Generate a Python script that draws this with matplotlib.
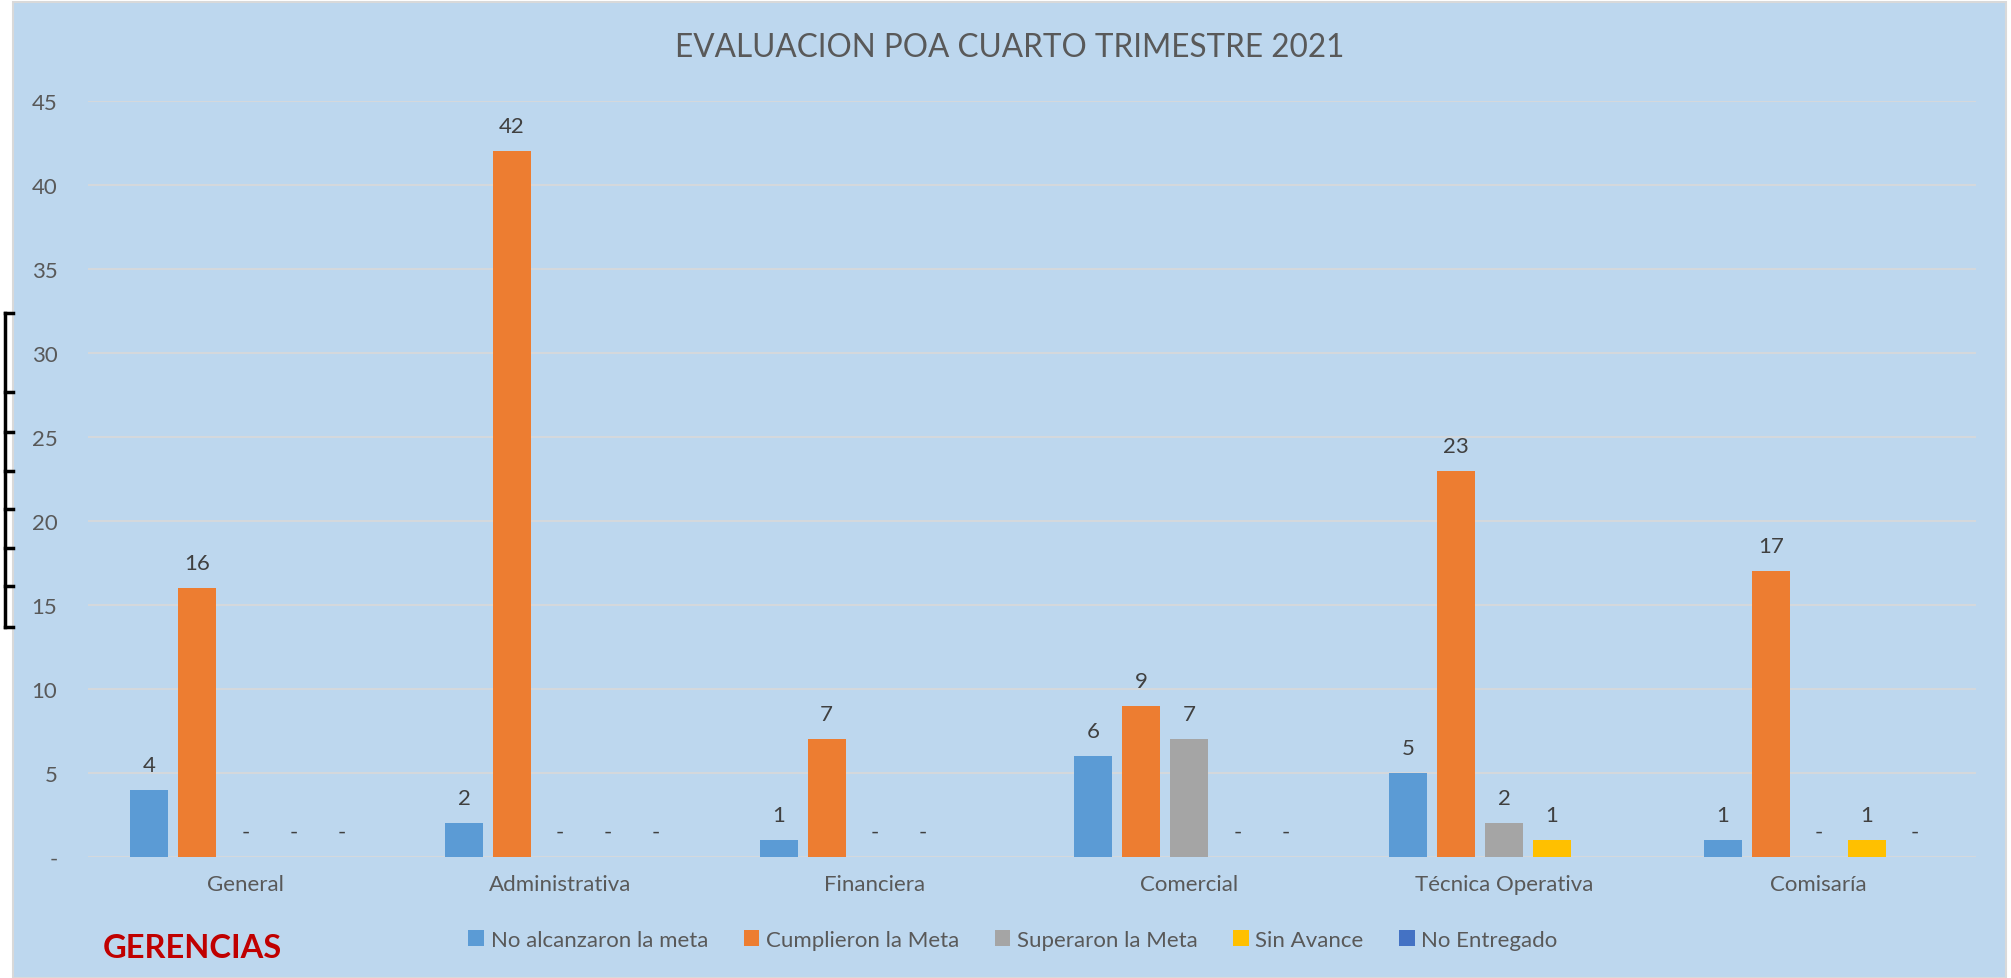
import numpy as np
import matplotlib
matplotlib.use("Agg")
import matplotlib.pyplot as plt
from matplotlib.patches import Rectangle
from matplotlib.lines import Line2D

plt.rcParams['font.family'] = ['Lato', 'DejaVu Sans']

categories = ["General", "Administrativa", "Financiera", "Comercial", "Técnica Operativa", "Comisaría"]
series_names = ["No alcanzaron la meta", "Cumplieron la Meta", "Superaron la Meta", "Sin Avance", "No Entregado"]
no_alcanzaron = [4, 2, 1, 6, 5, 1]
cumplieron = [16, 42, 7, 9, 23, 17]
superaron = [0, 0, 0, 7, 2, 0]
sin_avance = [0, 0, 0, 0, 1, 1]
no_entregado = [0, 0, np.nan, 0, np.nan, 0]
colors = ["#5B9BD5", "#ED7D31", "#A5A5A5", "#FFC000", "#4472C4"]
yticks = [0, 5, 10, 15, 20, 25, 30, 35, 40, 45]
ytick_labels = ["-", "5", "10", "15", "20", "25", "30", "35", "40", "45"]
title = "EVALUACION POA CUARTO TRIMESTRE 2021"

W, H = 2011, 979
fig = plt.figure(figsize=(W / 100, H / 100), dpi=100, facecolor="white")

# chart area background
fig.patches.append(Rectangle((13 / W, 0), (2006 - 13) / W, (H - 3) / H,
                             transform=fig.transFigure, facecolor="#BDD7EE",
                             edgecolor="#D9D9D9", linewidth=1.5, zorder=-10))

ax = fig.add_axes([88 / W, (H - 858) / H, (1976 - 88) / W, (858 - 102) / H])
ax.set_zorder(1)
ax.set_facecolor("none")
ax.set_ylim(0, 45)
ax.set_xlim(-0.5, len(categories) - 0.5)

text_color = "#595959"
label_color = "#404040"
fs = 16

all_series = [no_alcanzaron, cumplieron, superaron, sin_avance, no_entregado]
x = np.arange(len(categories))
slot = 0.1525
bw = 0.121
for j, (vals, col, name) in enumerate(zip(all_series, colors, series_names)):
    vals = np.array(vals, dtype=float)
    xs = x + (j - 2) * slot
    ax.bar(xs, np.nan_to_num(vals), width=bw, color=col, label=name, zorder=3)
    for xi, v in zip(xs, vals):
        if np.isnan(v):
            continue
        txt = "-" if v == 0 else f"{int(v)}"
        ax.annotate(txt, (xi, v), xytext=(0, 18), textcoords="offset points",
                    ha="center", va="center", fontsize=fs, color=label_color)

ax.set_yticks(yticks)
ax.set_yticklabels(ytick_labels)
ax.set_xticks(x)
ax.set_xticklabels(categories)
ax.tick_params(axis="both", length=0, labelsize=fs, colors=text_color)
ax.tick_params(axis="y", pad=22)
ax.tick_params(axis="x", pad=12)
ax.grid(axis="y", color="#D9D9D9", linewidth=1.2, zorder=1)
for s in ax.spines.values():
    s.set_visible(False)

fig.text(1010 / W, 1 - 48 / H, title, ha="center", va="center", fontsize=22.7, color=text_color)

leg = fig.legend(loc="center", bbox_to_anchor=(1013 / W, 1 - 941 / H), ncol=5, frameon=False,
                 fontsize=fs, handlelength=0.7, handleheight=0.7, handletextpad=0.3,
                 columnspacing=1.6, labelcolor=text_color)

fig.text(103 / W, 1 - 949 / H, "GERENCIAS", ha="left", va="center", fontsize=23.5,
         fontweight="bold", color="#C00000")

# left bracket artifact
bx0, bx1 = 5, 13
ys = [314, 393, 433, 472, 510, 549, 587, 628]
fig.lines.append(Line2D([bx0 / W, bx0 / W], [1 - ys[0] / H, 1 - ys[-1] / H], transform=fig.transFigure,
                        color="black", linewidth=2.5))
for yy in ys:
    fig.lines.append(Line2D([bx0 / W, bx1 / W], [1 - yy / H, 1 - yy / H], transform=fig.transFigure,
                            color="black", linewidth=2.5))

fig.savefig("out.png", dpi=100, facecolor="white")
